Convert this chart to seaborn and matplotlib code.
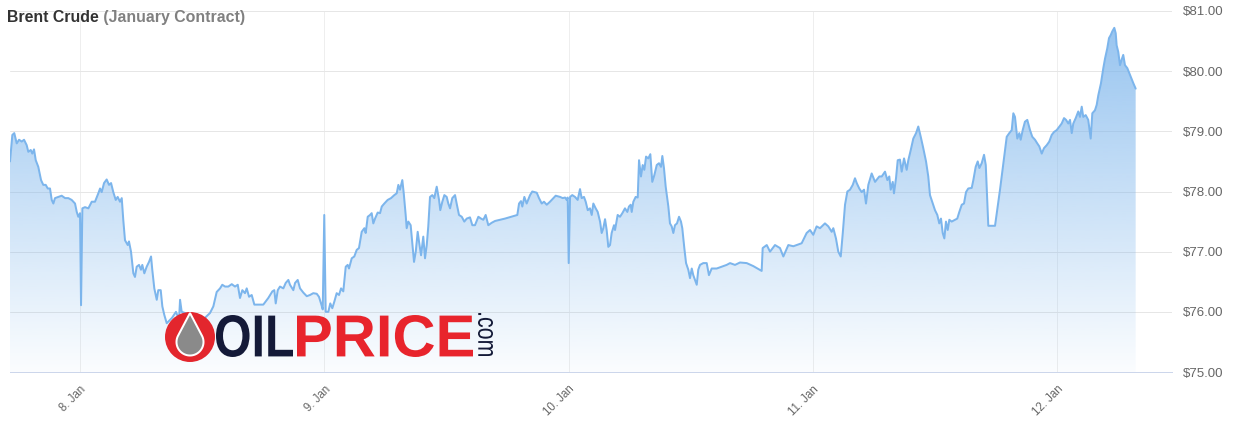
"""Brent Crude (January Contract) intraday chart, 8-12 Jan, with OILPRICE.com watermark."""

import matplotlib

matplotlib.use("Agg")
import matplotlib.pyplot as plt
import numpy as np
import pandas as pd
import seaborn as sns
from matplotlib.colors import to_rgb
from matplotlib.font_manager import FontProperties
from matplotlib.patches import Circle, PathPatch, Polygon
from matplotlib.textpath import TextPath
from matplotlib.transforms import Affine2D

# hours since 8 Jan 00:00, and price in USD
HOURS = [
    -6.88, -6.65, -6.46, -6.22, -5.99, -5.73, -5.50, -5.24, -5.08, -4.84,
    -4.69, -4.52, -4.35, -4.10, -3.83, -3.61, -3.37, -3.17, -2.95, -2.78,
    -2.62, -2.46, -2.13, -1.80, -1.47, -1.15, -0.82, -0.49, -0.32, -0.17,
    0.00, 0.10, 0.23, 0.49, 0.82, 1.15, 1.47, 1.80, 1.97, 2.13,
    2.36, 2.62, 2.85, 3.05, 3.27, 3.51, 3.70, 3.93, 4.10, 4.25,
    4.42, 4.69, 4.81, 5.01, 5.24, 5.40, 5.57, 5.80, 5.99, 6.12,
    6.32, 6.55, 6.78, 6.98, 7.10, 7.30, 7.54, 7.69, 7.93, 8.09,
    8.28, 8.52, 9.04, 9.43, 9.73, 9.83, 9.99, 10.32, 11.30, 12.09,
    12.77, 13.10, 13.43, 13.76, 13.98, 14.25, 14.57, 14.91, 15.23, 15.50,
    15.72, 15.95, 16.21, 16.38, 16.61, 16.87, 17.13, 17.52, 18.01, 18.50,
    18.90, 19.09, 19.23, 19.43, 19.65, 19.98, 20.21, 20.47, 20.63, 20.96,
    21.13, 21.39, 21.62, 21.94, 22.28, 22.60, 22.92, 23.26, 23.48, 23.68,
    23.85, 24.00, 24.14, 24.40, 24.59, 24.79, 24.99, 25.22, 25.45, 25.65,
    25.87, 26.11, 26.30, 26.43, 26.70, 26.95, 27.19, 27.41, 27.68, 27.94,
    28.07, 28.27, 28.50, 28.66, 28.82, 28.99, 29.25, 29.48, 29.65, 29.90,
    30.23, 30.56, 30.88, 31.12, 31.28, 31.44, 31.67, 31.81, 32.00, 32.10,
    32.26, 32.49, 32.65, 32.82, 32.99, 33.18, 33.31, 33.51, 33.73, 33.90,
    34.07, 34.22, 34.39, 34.62, 34.81, 35.05, 35.28, 35.40, 35.60, 35.80,
    36.03, 36.19, 36.36, 36.58, 36.85, 37.01, 37.24, 37.51, 37.76, 38.00,
    38.32, 38.55, 38.81, 39.14, 39.40, 39.63, 39.86, 40.12, 40.45, 40.78,
    41.76, 42.97, 43.14, 43.33, 43.46, 43.66, 43.89, 44.22, 44.44, 44.88,
    45.10, 45.37, 45.59, 45.86, 46.18, 46.51, 46.74, 47.17, 47.43, 47.66,
    47.82, 47.92, 48.02, 48.15, 48.37, 48.64, 48.90, 49.13, 49.29, 49.52,
    49.69, 49.89, 50.11, 50.28, 50.44, 50.67, 50.87, 51.10, 51.26, 51.42,
    51.59, 51.75, 51.91, 52.08, 52.24, 52.47, 52.57, 52.83, 53.06, 53.29,
    53.55, 53.78, 53.94, 54.11, 54.21, 54.37, 54.60, 54.80, 54.93, 55.12,
    55.29, 55.45, 55.62, 55.84, 56.04, 56.23, 56.43, 56.67, 56.89, 57.09,
    57.22, 57.38, 57.55, 57.81, 57.97, 58.14, 58.30, 58.46, 58.66, 58.86,
    59.05, 59.18, 59.38, 59.55, 59.77, 59.94, 60.11, 60.26, 60.43, 60.60,
    60.75, 60.92, 61.24, 61.58, 61.80, 62.07, 62.56, 63.05, 63.54, 63.87,
    64.36, 64.85, 65.51, 66.16, 66.98, 67.08, 67.48, 67.80, 68.29, 68.78,
    69.11, 69.60, 70.09, 70.42, 70.91, 71.40, 71.73, 72.05, 72.38, 72.71,
    73.20, 73.53, 73.86, 74.02, 74.28, 74.51, 74.75, 74.95, 75.17, 75.40,
    75.66, 75.93, 76.15, 76.32, 76.57, 76.81, 77.04, 77.23, 77.46, 77.79,
    78.12, 78.54, 78.78, 79.10, 79.33, 79.52, 79.66, 79.86, 79.98, 80.18,
    80.35, 80.57, 80.74, 80.97, 81.23, 81.39, 81.63, 81.88, 82.15, 82.37,
    82.61, 82.86, 83.13, 83.35, 83.52, 83.79, 84.01, 84.24, 84.43, 84.60,
    84.77, 84.93, 85.09, 85.26, 85.42, 85.65, 85.98, 86.20, 86.40, 86.64,
    86.86, 87.06, 87.28, 87.62, 87.78, 88.01, 88.21, 88.37, 88.60, 88.83,
    89.00, 89.25, 89.91, 90.40, 90.89, 91.06, 91.31, 91.55, 91.71, 91.87,
    92.10, 92.30, 92.43, 92.63, 92.85, 93.08, 93.35, 93.57, 93.84, 94.06,
    94.26, 94.50, 94.72, 94.99, 95.24, 95.48, 95.71, 95.97, 96.23, 96.46,
    96.69, 96.89, 97.11, 97.28, 97.45, 97.60, 97.84, 98.09, 98.26, 98.43,
    98.58, 98.82, 99.07, 99.31, 99.47, 99.73, 99.90, 100.06, 100.32, 100.55,
    100.72, 100.94, 101.11, 101.28, 101.43, 101.63, 101.77, 101.86, 102.02, 102.19,
    102.35, 102.51, 102.68, 102.91, 103.17, 103.50, 103.73,
]
PRICE = [
    78.50, 78.94, 78.97, 78.80, 78.86, 78.83, 78.86, 78.77, 78.66, 78.69,
    78.63, 78.70, 78.52, 78.41, 78.19, 78.11, 78.11, 78.05, 78.05, 77.86,
    77.80, 77.89, 77.91, 77.93, 77.89, 77.89, 77.86, 77.80, 77.66, 77.58,
    77.64, 76.11, 77.72, 77.74, 77.72, 77.83, 77.83, 77.97, 78.05, 77.99,
    78.14, 78.20, 78.11, 78.14, 77.99, 77.86, 77.91, 77.83, 77.89, 77.53,
    77.19, 77.11, 77.17, 77.00, 76.64, 76.58, 76.75, 76.78, 76.70, 76.78,
    76.64, 76.75, 76.83, 76.92, 76.70, 76.39, 76.20, 76.36, 76.36, 76.09,
    75.95, 75.81, 75.90, 76.00, 75.87, 76.20, 76.00, 75.98, 75.90, 75.87,
    75.98, 76.09, 76.33, 76.39, 76.45, 76.42, 76.42, 76.46, 76.42, 76.45,
    76.23, 76.36, 76.31, 76.39, 76.25, 76.28, 76.12, 76.12, 76.12, 76.23,
    76.34, 76.36, 76.14, 76.36, 76.42, 76.39, 76.48, 76.53, 76.45, 76.36,
    76.48, 76.53, 76.39, 76.32, 76.26, 76.28, 76.31, 76.30, 76.25, 76.14,
    76.04, 77.61, 76.00, 76.00, 76.14, 76.06, 76.17, 76.31, 76.28, 76.39,
    76.34, 76.75, 76.78, 76.72, 76.89, 76.92, 77.03, 77.06, 77.33, 77.39,
    77.31, 77.58, 77.61, 77.64, 77.47, 77.55, 77.65, 77.64, 77.75, 77.80,
    77.86, 77.89, 77.94, 77.97, 78.11, 78.03, 78.19, 77.97, 77.61, 77.39,
    77.50, 77.44, 77.14, 76.83, 77.00, 77.33, 77.17, 76.94, 77.25, 76.89,
    77.11, 77.42, 77.91, 77.94, 77.89, 78.08, 77.86, 77.69, 77.83, 77.94,
    77.91, 77.80, 77.72, 77.89, 77.94, 77.80, 77.61, 77.58, 77.50, 77.55,
    77.57, 77.44, 77.44, 77.58, 77.55, 77.53, 77.61, 77.44, 77.48, 77.51,
    77.55, 77.61, 77.80, 77.84, 77.75, 77.91, 77.80, 77.94, 78.00, 77.98,
    77.89, 77.80, 77.83, 77.78, 77.83, 77.89, 77.93, 77.91, 77.89, 77.90,
    77.86, 77.90, 76.81, 77.91, 77.94, 77.91, 77.86, 78.04, 77.89, 77.91,
    77.83, 77.69, 77.72, 77.61, 77.80, 77.72, 77.66, 77.50, 77.31, 77.39,
    77.54, 77.36, 77.08, 77.11, 77.31, 77.44, 77.36, 77.61, 77.58, 77.64,
    77.72, 77.66, 77.75, 77.78, 77.66, 77.83, 77.91, 77.90, 78.52, 78.25,
    78.44, 78.36, 78.58, 78.55, 78.62, 78.16, 78.27, 78.44, 78.47, 78.41,
    78.59, 78.39, 78.08, 77.75, 77.47, 77.42, 77.31, 77.44, 77.47, 77.58,
    77.50, 77.39, 77.06, 76.81, 76.70, 76.56, 76.72, 76.61, 76.53, 76.45,
    76.70, 76.78, 76.81, 76.81, 76.61, 76.72, 76.72, 76.75, 76.78, 76.81,
    76.78, 76.82, 76.81, 76.76, 76.68, 77.06, 77.11, 77.00, 77.11, 77.06,
    76.92, 77.11, 77.09, 77.11, 77.14, 77.31, 77.36, 77.28, 77.42, 77.39,
    77.47, 77.42, 77.33, 77.39, 77.22, 77.00, 76.92, 77.31, 77.78, 78.00,
    78.03, 78.11, 78.22, 78.14, 78.05, 77.99, 78.03, 77.80, 78.11, 78.30,
    78.16, 78.25, 78.25, 78.33, 78.19, 78.25, 78.03, 78.16, 77.97, 78.22,
    78.52, 78.53, 78.33, 78.55, 78.36, 78.52, 78.69, 78.88, 78.97, 79.08,
    78.91, 78.72, 78.50, 78.25, 77.94, 77.80, 77.69, 77.61, 77.47, 77.55,
    77.31, 77.22, 77.50, 77.36, 77.53, 77.50, 77.53, 77.55, 77.66, 77.78,
    77.80, 77.99, 78.05, 78.06, 78.19, 78.41, 78.50, 78.39, 78.47, 78.61,
    78.44, 77.43, 77.43, 78.03, 78.69, 78.91, 78.97, 79.02, 79.30, 79.24,
    78.88, 78.97, 78.86, 79.02, 79.16, 79.19, 79.02, 78.91, 78.86, 78.80,
    78.75, 78.63, 78.72, 78.77, 78.83, 78.94, 78.99, 79.02, 79.08, 79.13,
    79.22, 79.19, 79.13, 79.19, 78.97, 79.13, 79.22, 79.33, 79.24, 79.41,
    79.24, 79.27, 79.19, 78.88, 79.30, 79.35, 79.44, 79.60, 79.80, 80.05,
    80.21, 80.38, 80.55, 80.60, 80.66, 80.72, 80.63, 80.43, 80.32, 80.10,
    80.19, 80.27, 80.10, 80.05, 79.94, 79.80, 79.71,
]
TICK_HOURS = [0, 24, 48, 72, 96]
TICK_LABELS = ["8. Jan", "9. Jan", "10. Jan", "11. Jan", "12. Jan"]
Y_TICKS = [75, 76, 77, 78, 79, 80, 81]
X_RANGE = (-6.88, 107.3)

W, H, DPI = 1234, 430, 100
PX = 72 / DPI  # one pixel in points
LINE = "#7cb5ec"
AXIS = "#ccd6eb"
LABEL = "#666666"

sns.set_style("white")
plt.rcParams["font.family"] = ["Liberation Sans", "DejaVu Sans"]

df = pd.DataFrame({"hours": HOURS, "price": PRICE})

fig = plt.figure(figsize=(W / DPI, H / DPI), dpi=DPI)
ax = fig.add_axes([10 / W, 58 / H, 1162 / W, 361 / H])

# area under the line: vertical gradient clipped to the filled polygon
fill = ax.fill_between(df["hours"], df["price"], Y_TICKS[0], facecolor="none", edgecolor="none")
grad = np.zeros((256, 1, 4))
grad[..., :3] = to_rgb(LINE)
grad[:, 0, 3] = np.linspace(0.82, 0.03, 256)
im = ax.imshow(grad, extent=[X_RANGE[0], X_RANGE[1], Y_TICKS[0], Y_TICKS[-1]],
               aspect="auto", origin="upper", zorder=1, interpolation="bilinear")
im.set_clip_path(fill.get_paths()[0], transform=ax.transData)

sns.lineplot(data=df, x="hours", y="price", color=LINE, linewidth=2 * PX, ax=ax, zorder=3)

ax.set_xlim(*X_RANGE)
ax.set_ylim(Y_TICKS[0], Y_TICKS[-1])
ax.set_xlabel("")
ax.set_ylabel("")

ax.set_axisbelow(True)
ax.grid(True, axis="y", color="#e6e6e6", linewidth=PX)
ax.grid(True, axis="x", color="#eeeeee", linewidth=PX)

ax.set_xticks(TICK_HOURS, TICK_LABELS)
ax.tick_params(axis="x", length=7 * PX, width=PX, color=AXIS, labelsize=8.3,
               labelcolor=LABEL, pad=3)
for lbl in ax.get_xticklabels():
    lbl.set_rotation(45)
    lbl.set_ha("right")
    lbl.set_rotation_mode("anchor")

ax.yaxis.tick_right()
ax.set_yticks(Y_TICKS, [f"${v:.2f}" for v in Y_TICKS])
ax.tick_params(axis="y", length=0, pad=8, labelsize=9.5, labelcolor=LABEL)

for side in ["left", "top", "right"]:
    ax.spines[side].set_visible(False)
ax.spines["bottom"].set_color(AXIS)
ax.spines["bottom"].set_linewidth(PX)

# title in two colours
t1 = fig.text(7 / W, (H - 22) / H, "Brent Crude", fontsize=11.4, fontweight="bold",
              color="#333333", va="baseline")
ax.annotate(" (January Contract)", xy=(1, 0), xycoords=t1, va="bottom",
            fontsize=11.4, fontweight="bold", color="#808080")

# OILPRICE.com watermark (positions in pixels, top-left origin)
BOLD = FontProperties(family="Liberation Sans", weight="bold")
REGULAR = FontProperties(family="Liberation Sans")
px = fig.dpi_scale_trans


def logo_text(text, box, color, prop, rotate=False):
    left, top, right, bottom = box
    path = TextPath((0, 0), text, size=50, prop=prop)
    if rotate:
        path = Affine2D().rotate_deg(-90).transform_path(path)
    ext = path.get_extents()
    tr = (Affine2D()
          .translate(-ext.x0, -ext.y0)
          .scale((right - left) / ext.width, (bottom - top) / ext.height)
          .translate(left, H - bottom)
          .scale(1 / DPI) + px)
    fig.add_artist(PathPatch(path, transform=tr, facecolor=color, edgecolor="none", zorder=5))


cx, cy, r = 190, H - 337, 25
fig.add_artist(Circle((cx / DPI, cy / DPI), r / DPI, transform=px, facecolor="#e3262d",
                      edgecolor="none", zorder=5))
tip = np.array([cx, cy + 24])
bc, br = np.array([cx, cy - 5]), 13.5
half = np.degrees(np.arccos(br / (tip[1] - bc[1])))
ang = np.radians(np.linspace(90 + half, 450 - half, 60))
drop = np.vstack([tip, np.column_stack([bc[0] + br * np.cos(ang), bc[1] + br * np.sin(ang)]), tip])
fig.add_artist(Polygon(drop / DPI, closed=True, transform=px, facecolor="#8a8a8a",
                       edgecolor="white", linewidth=2 * PX, zorder=6))
logo_text("OIL", (216, 315, 293, 357), "#141a38", BOLD)
logo_text("PRICE", (297, 315, 473, 357), "#e8242c", BOLD)
logo_text(".com", (478, 313, 493, 356), "#141a38", REGULAR, rotate=True)

fig.savefig("out.png", dpi=DPI)
